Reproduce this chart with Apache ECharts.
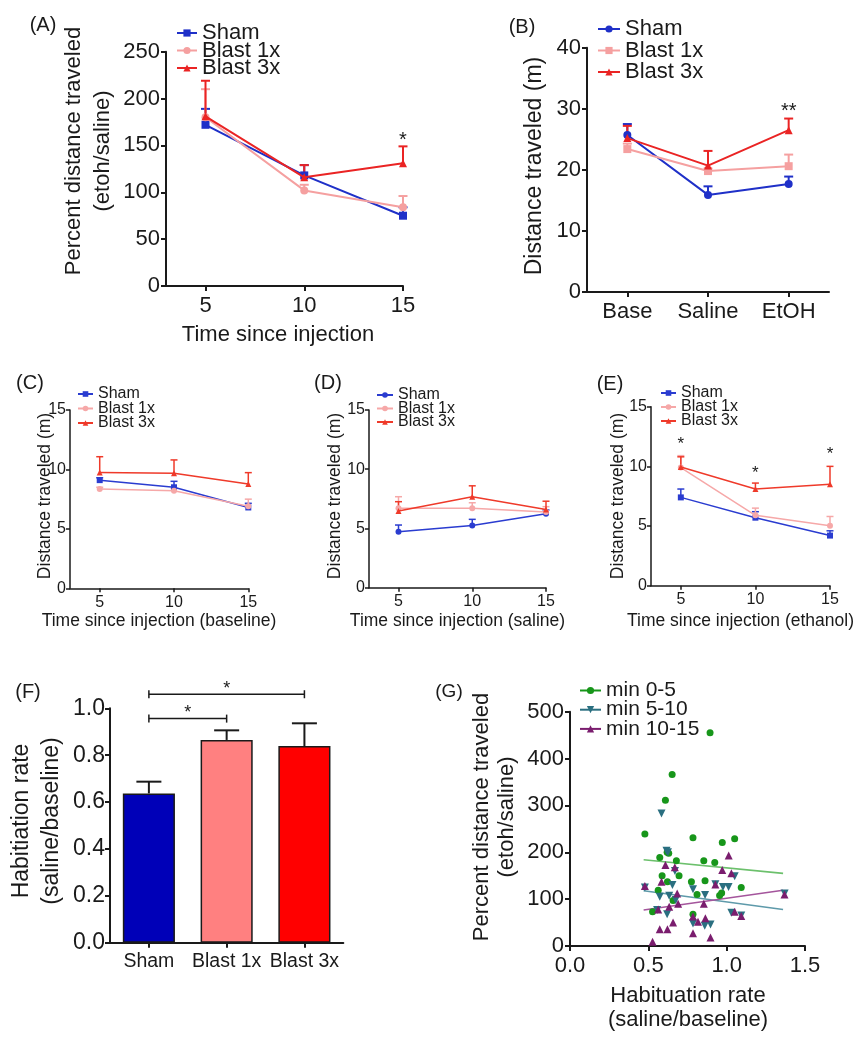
<!DOCTYPE html>
<html><head><meta charset="utf-8"><title>Figure</title>
<script src="https://cdn.jsdelivr.net/npm/echarts@6.0.0/dist/echarts.min.js"></script>
<style>
html,body{margin:0;padding:0;background:#fff}
#wrap{position:relative;width:868px;height:1050px;overflow:hidden;background:#fff}
.p{position:absolute;left:0;top:0;width:868px;height:1050px}
</style></head><body><div id="wrap">
<div id="pA" class="p"></div><div id="pB" class="p"></div><div id="pC" class="p"></div>
<div id="pD" class="p"></div><div id="pE" class="p"></div><div id="pF" class="p"></div>
<div id="pG" class="p"></div>
</div>
<script>
// ---------------- DATA ----------------
const groupNames = ['Sham', 'Blast 1x', 'Blast 3x'];
const timeTicks = [5, 10, 15];

// (A) percent distance traveled (etoh/saline)
const aSham = [172, 118, 75];
const aShamTop = [189, 129, 84];
const aBlast1 = [180, 102, 84];
const aBlast1Top = [210, 108, 96];
const aBlast3 = [181, 116, 131];
const aBlast3Top = [219, 129, 149];
const aStars = [[15, 160]];
const aStarText = ['*'];

// (B) distance traveled by session
const bCats = ['Base', 'Saline', 'EtOH'];
const bSham = [25.7, 15.9, 17.7];
const bShamTop = [27.5, 17.3, 18.9];
const bBlast1 = [23.4, 19.8, 20.6];
const bBlast1Top = [24.3, 20.2, 22.5];
const bBlast3 = [25.2, 20.7, 26.5];
const bBlast3Top = [27.2, 23.1, 28.4];
const bStars = [['EtOH', 30.2]];
const bStarText = ['**'];

// (C) baseline
const cSham = [9.1, 8.5, 6.8];
const cShamTop = [9.3, 9.0, 7.15];
const cBlast1 = [8.35, 8.2, 6.9];
const cBlast1Top = [8.5, 8.4, 7.5];
const cBlast3 = [9.75, 9.67, 8.77];
const cBlast3Top = [11.07, 10.8, 9.73];

// (D) saline
const dSham = [4.73, 5.26, 6.24];
const dShamTop = [5.29, 5.77, 6.56];
const dBlast1 = [6.7, 6.7, 6.4];
const dBlast1Top = [7.68, 7.17, 6.84];
const dBlast3 = [6.47, 7.68, 6.6];
const dBlast3Top = [7.26, 8.6, 7.3];

// (E) ethanol
const eSham = [7.4, 5.7, 4.2];
const eShamTop = [8.1, 6.2, 4.6];
const eBlast1 = [9.9, 5.9, 5.03];
const eBlast1Top = [10.9, 6.5, 5.8];
const eBlast3 = [9.95, 8.1, 8.5];
const eBlast3Top = [10.8, 8.6, 10.0];
const eStars = [[5, 12.2], [10, 9.7], [15, 11.3]];
const eStarText = ['*', '*', '*'];

// (F) habituation rate
const fCats = ['Sham', 'Blast 1x', 'Blast 3x'];
const fVals = [0.637, 0.865, 0.839];
const fTops = [0.687, 0.906, 0.936];
const fBrackets = [[0, 1, 0.956, 0.997], [0, 2, 1.06, 1.10]]; // from, to, bracket height, star height

// (G) scatter: habituation rate vs percent distance
const gNames = ['min 0-5', 'min 5-10', 'min 10-15'];
const gMin0to5 = [[0.652,366],[0.609,311],[0.478,239],[0.620,200],[0.630,198],[0.573,189],[0.679,182],
  [0.588,150],[0.696,150],[0.622,137],[0.563,119],[0.658,97],[0.527,73],[0.785,231],[0.972,221],
  [1.051,229],[0.854,182],[0.924,178],[0.775,137],[0.862,139],[0.811,110],[0.955,108],[0.968,113],
  [1.093,125],[0.785,68],[0.894,455]];
const gMin5to10 = [[0.584,283],[0.616,203],[0.625,200],[0.478,125],[0.573,105],[0.633,107],[0.654,130],
  [0.675,98],[0.62,68],[0.556,77],[0.785,121],[0.862,109],[0.928,132],[0.976,126],[1.012,126],
  [1.051,149],[1.03,71],[1.093,65],[0.785,48],[0.86,43],[0.897,46],[1.37,112],[0.67,160]];
const gMin10to15 = [[0.609,173],[0.669,168],[0.584,137],[0.478,128],[0.684,112],[0.69,90],[0.633,84],
  [0.563,78],[0.658,50],[0.573,36],[0.622,36],[0.527,9],[1.013,193],[0.972,162],[1.03,155],
  [0.928,131],[0.854,90],[0.785,63],[0.817,52],[0.864,59],[0.785,27],[0.897,18],[1.051,73],
  [1.093,64],[1.369,110]];
const gFit0to5 = [[0.47, 184], [1.36, 155]];
const gFit5to10 = [[0.47, 118], [1.36, 78]];
const gFit10to15 = [[0.47, 77], [1.36, 119]];

// ---------------- HELPERS ----------------
const FONT = '"Liberation Sans", Arial, Helvetica, sans-serif';
const INK = '#1a1a1a';

function gText(text, x, y, fs, rot, lh) {
  const style = {text: text, fontSize: fs, fontFamily: FONT, fill: INK, align: 'center', verticalAlign: 'middle'};
  if (lh) style.lineHeight = lh;
  return {type: 'text', x: x, y: y, rotation: rot ? Math.PI / 2 : 0, silent: true, style: style};
}

function errorSeries(xs, vals, tops, color, cap, lw, z) {
  return {
    type: 'custom', silent: true, z: z || 2, encode: {x: 0, y: 1},
    data: xs.map((x, i) => [x, vals[i], tops[i]]),
    renderItem: function (params, api) {
      const p0 = api.coord([api.value(0), api.value(1)]);
      const p1 = api.coord([api.value(0), api.value(2)]);
      const st = {stroke: color, lineWidth: lw};
      return {type: 'group', children: [
        {type: 'line', shape: {x1: p0[0], y1: p0[1], x2: p1[0], y2: p1[1]}, style: st},
        {type: 'line', shape: {x1: p1[0] - cap / 2, y1: p1[1], x2: p1[0] + cap / 2, y2: p1[1]}, style: st}
      ]};
    }
  };
}

function starSeries(stars, texts, fs) {
  return {
    type: 'custom', silent: true, z: 10, encode: {x: 0, y: 1},
    data: stars,
    renderItem: function (params, api) {
      const c = api.coord([api.value(0), api.value(1)]);
      return {type: 'text', x: c[0], y: c[1] + fs * 0.22,
        style: {text: texts[params.dataIndex], fontSize: fs, fontFamily: FONT, fill: INK, align: 'center', verticalAlign: 'middle'}};
    }
  };
}

function axisBase(lw, tl, fs, margin) {
  return {
    splitLine: {show: false},
    axisLine: {show: true, onZero: false, lineStyle: {color: INK, width: lw}},
    axisTick: {show: true, length: tl, lineStyle: {color: INK, width: lw}},
    axisLabel: {color: INK, fontSize: fs, fontFamily: FONT, margin: margin}
  };
}

function buildLinePanel(id, c) {
  const chart = echarts.init(document.getElementById(id), null, {renderer: 'canvas', width: 868, height: 1050});
  const series = [];
  c.vals.forEach((vals, k) => series.push(errorSeries(c.xs, vals, c.tops[k], c.colors[k], c.cap, c.lw, 2 + k)));
  c.vals.forEach((vals, k) => series.push({
    type: 'line', name: groupNames[k], data: c.xs.map((x, i) => [x, vals[i]]),
    symbol: c.symbols[k], symbolSize: c.sym, showSymbol: true, color: c.colors[k],
    itemStyle: {color: c.colors[k]}, lineStyle: {color: c.colors[k], width: c.lw},
    z: 5 + k, emphasis: {disabled: true}
  }));
  if (c.stars) series.push(starSeries(c.stars, c.starText, c.starFs));

  let xAxis;
  if (c.category) {
    xAxis = Object.assign(axisBase(c.lw, c.tick, c.xfs, c.xmargin), {type: 'category', data: c.category, boundaryGap: true});
    xAxis.axisTick.alignWithLabel = true;
    xAxis.axisLabel.interval = 0;
  } else {
    xAxis = Object.assign(axisBase(c.lw, c.tick, c.xfs, c.xmargin), {type: 'value', min: 3, max: 15});
    xAxis.axisTick.customValues = timeTicks;
    xAxis.axisLabel.customValues = timeTicks;
  }
  const yAxis = Object.assign(axisBase(c.lw, c.tick, c.yfs, c.ymargin), {type: 'value', min: 0, max: c.ymax, interval: c.yint});

  chart.setOption({
    animation: false,
    grid: {left: c.grid[0], top: c.grid[1], width: c.grid[2], height: c.grid[3], containLabel: false},
    xAxis: xAxis, yAxis: yAxis,
    legend: {orient: 'vertical', left: c.leg[0], top: c.leg[1], padding: 0, itemGap: c.leg[2],
      itemWidth: c.leg[3], itemHeight: c.leg[4], selectedMode: false,
      textStyle: {fontSize: c.leg[5], fontFamily: FONT, color: INK}, data: groupNames},
    series: series,
    graphic: c.graphic
  });
}

const colsBig = ['#1f30c8', '#f5a0a0', '#ea2424'];
const colsSmall = ['#2a3cd0', '#f6a8a8', '#ef3a2a'];

// ---------------- PANELS ----------------
buildLinePanel('pA', {
  xs: timeTicks, vals: [aSham, aBlast1, aBlast3], tops: [aShamTop, aBlast1Top, aBlast3Top],
  colors: colsBig, symbols: ['rect', 'circle', 'triangle'], sym: 8, lw: 2, cap: 9, tick: 5,
  xfs: 22, yfs: 22, xmargin: 9, ymargin: 6, ymax: 250, yint: 50,
  grid: [166, 51.7, 237, 234.3], leg: [176, 22, -4.5, 20, 9, 22],
  stars: aStars, starText: aStarText, starFs: 20,
  graphic: [gText('(A)', 43, 25, 20), gText('Percent distance traveled\n(etoh/saline)', 88.5, 151, 22, true, 29),
    gText('Time since injection', 278, 335, 22)]
});

buildLinePanel('pB', {
  xs: bCats, category: bCats, vals: [bSham, bBlast1, bBlast3], tops: [bShamTop, bBlast1Top, bBlast3Top],
  colors: colsBig, symbols: ['circle', 'rect', 'triangle'], sym: 8, lw: 2, cap: 9, tick: 5,
  xfs: 22, yfs: 22, xmargin: 9, ymargin: 6, ymax: 40, yint: 10,
  grid: [587, 47.7, 242, 244.3], leg: [597, 18, -0.5, 22, 9, 22],
  stars: bStars, starText: bStarText, starFs: 20,
  graphic: [gText('(B)', 522, 27, 20), gText('Distance traveled (m)', 535, 166, 23, true)]
});

buildLinePanel('pC', {
  xs: timeTicks, vals: [cSham, cBlast1, cBlast3], tops: [cShamTop, cBlast1Top, cBlast3Top],
  colors: colsSmall, symbols: ['rect', 'circle', 'triangle'], sym: 6, lw: 1.5, cap: 7, tick: 4,
  xfs: 16, yfs: 16, xmargin: 6, ymargin: 4, ymax: 15, yint: 5,
  grid: [70, 410, 178.3, 178.3], leg: [77, 386, -1.5, 15, 7, 16],
  graphic: [gText('(C)', 30, 383, 20), gText('Distance traveled (m)', 45, 496, 17.5, true),
    gText('Time since injection (baseline)', 159, 621, 17.5)]
});

buildLinePanel('pD', {
  xs: timeTicks, vals: [dSham, dBlast1, dBlast3], tops: [dShamTop, dBlast1Top, dBlast3Top],
  colors: colsSmall, symbols: ['circle', 'circle', 'triangle'], sym: 6, lw: 1.5, cap: 7, tick: 4,
  xfs: 16, yfs: 16, xmargin: 6, ymargin: 4, ymax: 15, yint: 5,
  grid: [369, 410, 177, 177.7], leg: [376, 387, -2.5, 16, 7, 16],
  graphic: [gText('(D)', 328, 383, 20), gText('Distance traveled (m)', 335, 496, 17.5, true),
    gText('Time since injection (saline)', 457.5, 621, 17.5)]
});

buildLinePanel('pE', {
  xs: timeTicks, vals: [eSham, eBlast1, eBlast3], tops: [eShamTop, eBlast1Top, eBlast3Top],
  colors: colsSmall, symbols: ['rect', 'circle', 'triangle'], sym: 6, lw: 1.5, cap: 7, tick: 4,
  xfs: 16, yfs: 16, xmargin: 6, ymargin: 4, ymax: 15, yint: 5,
  grid: [651, 406.7, 179, 179], leg: [660, 385, -2, 15, 7, 16],
  stars: eStars, starText: eStarText, starFs: 17,
  graphic: [gText('(E)', 610, 384, 20), gText('Distance traveled (m)', 618, 496, 17.5, true),
    gText('Time since injection (ethanol)', 740.5, 621, 17.5)]
});

// (F) bars
(function () {
  const chart = echarts.init(document.getElementById('pF'), null, {renderer: 'canvas', width: 868, height: 1050});
  const barColors = ['#0000b8', '#ff8080', '#ff0000'];
  const xAxis = Object.assign(axisBase(2, 5, 19.5, 9), {type: 'category', data: fCats, boundaryGap: true});
  xAxis.axisTick.alignWithLabel = true;
  xAxis.axisLabel.interval = 0;
  const yAxis = Object.assign(axisBase(2, 5, 23, 5), {type: 'value', min: 0, max: 1.0, interval: 0.2});
  yAxis.axisLabel.formatter = v => v.toFixed(1);
  chart.setOption({
    animation: false,
    grid: {left: 110, top: 708.3, width: 233.3, height: 234.4, containLabel: false},
    xAxis: xAxis, yAxis: yAxis,
    series: [
      {type: 'bar', barWidth: '67%', z: 2, emphasis: {disabled: true},
        data: fVals.map((v, i) => ({value: v, itemStyle: {color: barColors[i], borderColor: INK, borderWidth: 1.5}}))},
      errorSeries(fCats, fVals, fTops, INK, 25, 2, 3),
      {type: 'custom', silent: true, z: 4, encode: {x: 0, y: 2}, data: fBrackets,
        renderItem: function (params, api) {
          const b = fBrackets[params.dataIndex];
          const p0 = api.coord([b[0], b[2]]), p1 = api.coord([b[1], b[2]]);
          const s0 = api.coord([b[0], b[3]]), s1 = api.coord([b[1], b[3]]);
          const st = {stroke: INK, lineWidth: 1.5};
          return {type: 'group', children: [
            {type: 'line', shape: {x1: p0[0], y1: p0[1], x2: p1[0], y2: p1[1]}, style: st},
            {type: 'line', shape: {x1: p0[0], y1: p0[1] - 4, x2: p0[0], y2: p0[1] + 4}, style: st},
            {type: 'line', shape: {x1: p1[0], y1: p1[1] - 4, x2: p1[0], y2: p1[1] + 4}, style: st},
            {type: 'text', x: (s0[0] + s1[0]) / 2, y: s0[1] + 18 * 0.22,
              style: {text: '*', fontSize: 18, fontFamily: FONT, fill: INK, align: 'center', verticalAlign: 'middle'}}
          ]};
        }}
    ],
    graphic: [gText('(F)', 28, 692, 20), gText('Habitiation rate\n(saline/baseline)', 37, 821, 23, true, 30)]
  });
})();

// (G) scatter
(function () {
  const chart = echarts.init(document.getElementById('pG'), null, {renderer: 'canvas', width: 868, height: 1050});
  const cols = ['#17961a', '#2a6f80', '#7a1d6e'];
  const fitCols = ['#6cc06c', '#5e9aaa', '#a4559c'];
  const pts = [gMin0to5, gMin5to10, gMin10to15];
  const fits = [gFit0to5, gFit5to10, gFit10to15];
  const syms = ['circle', 'triangle', 'triangle'];
  const rots = [0, 180, 0];
  const xAxis = Object.assign(axisBase(2, 5, 22, 9), {type: 'value', min: 0, max: 1.5, interval: 0.5});
  xAxis.axisLabel.formatter = v => v.toFixed(1);
  const yAxis = Object.assign(axisBase(2, 5, 22, 6), {type: 'value', min: 0, max: 500, interval: 100});
  const series = [];
  fits.forEach((f, k) => series.push({type: 'line', name: 'fit ' + gNames[k], data: f, symbol: 'none',
    silent: true, z: 2, lineStyle: {color: fitCols[k], width: 1.6}, color: fitCols[k], emphasis: {disabled: true}}));
  pts.forEach((p, k) => series.push({type: 'line', name: gNames[k], data: p, symbol: syms[k], symbolRotate: rots[k],
    symbolSize: syms[k] === 'circle' ? 7 : 8, showSymbol: true, z: 3 + k, color: cols[k],
    itemStyle: {color: cols[k]}, lineStyle: {color: cols[k], width: 0, opacity: 0}, emphasis: {disabled: true}}));
  chart.setOption({
    animation: false,
    grid: {left: 570, top: 711.7, width: 235, height: 234.3, containLabel: false},
    xAxis: xAxis, yAxis: yAxis,
    legend: {orient: 'vertical', left: 579, top: 680, padding: 0, itemGap: -1.8, itemWidth: 21, itemHeight: 9,
      selectedMode: false, lineStyle: {width: 2, opacity: 1},
      textStyle: {fontSize: 21, fontFamily: FONT, color: INK}, data: gNames},
    series: series,
    graphic: [gText('(G)', 449, 692, 19), gText('Percent distance traveled\n(etoh/saline)', 494.5, 817, 22, true, 25),
      gText('Habituation rate\n(saline/baseline)', 688, 1008, 22, false, 24)]
  });
})();
</script></body></html>
